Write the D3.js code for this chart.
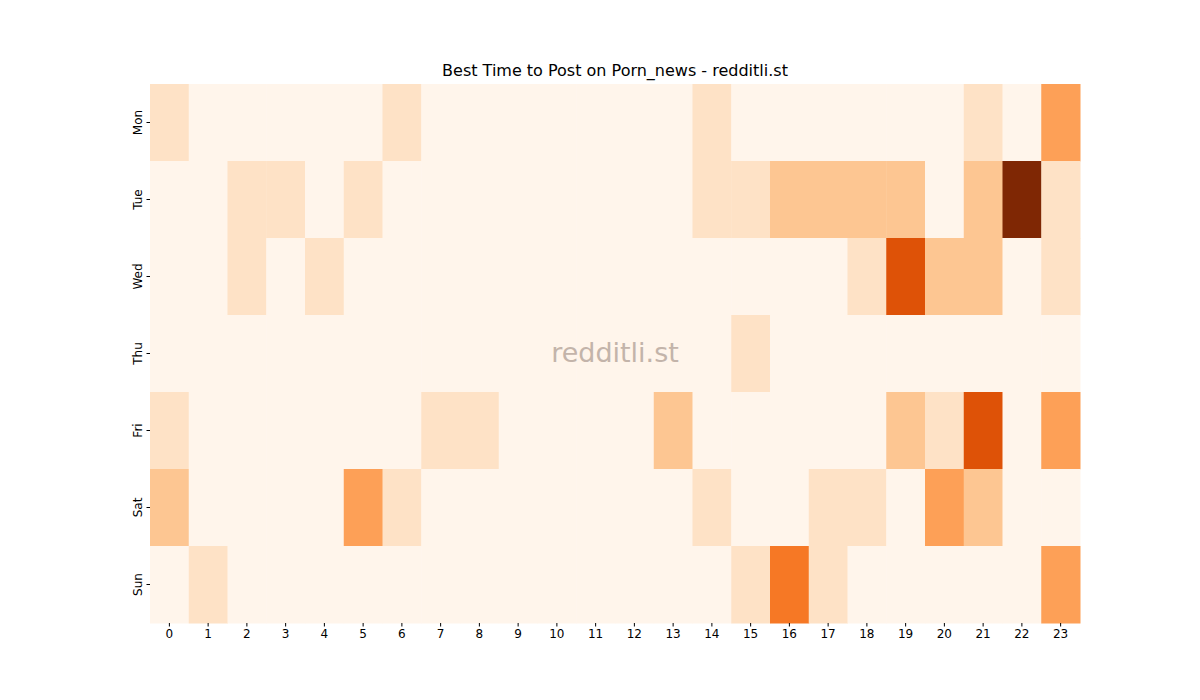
<!DOCTYPE html>
<html><head><meta charset="utf-8">
<script src="https://cdn.jsdelivr.net/npm/d3@7"></script>
<style>body{margin:0;background:#fff;font-family:"DejaVu Sans",sans-serif;}</style>
</head><body><svg id="c" width="1200" height="700"></svg>
<script>
const days = ["Mon","Tue","Wed","Thu","Fri","Sat","Sun"];
const hours = d3.range(24).map(String);
const mon = [1,0,0,0,0,0,1,0,0,0,0,0,0,0,1,0,0,0,0,0,0,1,0,3];
const tue = [0,0,1,1,0,1,0,0,0,0,0,0,0,0,1,1,2,2,2,2,0,2,7,1];
const wed = [0,0,1,0,1,0,0,0,0,0,0,0,0,0,0,0,0,0,1,5,2,2,0,1];
const thu = [0,0,0,0,0,0,0,0,0,0,0,0,0,0,0,1,0,0,0,0,0,0,0,0];
const fri = [1,0,0,0,0,0,0,1,1,0,0,0,0,2,0,0,0,0,0,2,1,5,0,3];
const sat = [2,0,0,0,0,3,1,0,0,0,0,0,0,0,1,0,0,1,1,0,3,2,0,0];
const sun = [0,1,0,0,0,0,0,0,0,0,0,0,0,0,0,1,4,1,0,0,0,0,0,3];
const rows = [mon,tue,wed,thu,fri,sat,sun];

const svg = d3.select("#c");
const x = d3.scaleBand().domain(hours).range([150,1080]);
const y = d3.scaleBand().domain(days).range([84,623]);
const color = d3.scaleSequential(d3.interpolateOranges).domain([0,7]);
const cells = [];
rows.forEach((r,i)=>r.forEach((v,j)=>cells.push({d:days[i],h:hours[j],v})));
svg.append("g").selectAll("rect").data(cells).join("rect")
  .attr("x",d=>x(d.h)).attr("y",d=>y(d.d))
  .attr("width",x.bandwidth()+0.5).attr("height",y.bandwidth()+0.5)
  .attr("fill",d=>color(d.v));
const gx = svg.append("g").attr("transform","translate(0,623)").call(d3.axisBottom(x).tickSizeOuter(0).tickSize(3.5));
gx.select(".domain").remove();
gx.selectAll("text").attr("font-size",12).attr("font-family","DejaVu Sans").attr("fill","#000");
const gy = svg.append("g").attr("transform","translate(150,0)").call(d3.axisLeft(y).tickSizeOuter(0).tickSize(3.5));
gy.select(".domain").remove();
gy.selectAll("text").attr("font-size",12).attr("font-family","DejaVu Sans").attr("fill","#000")
  .attr("transform",function(){const t=d3.select(this);return null;});
gy.selectAll(".tick text").each(function(){
  d3.select(this).attr("x",null).attr("dy",null).attr("text-anchor","middle")
   .attr("transform","translate(-12,0) rotate(-90)").attr("dominant-baseline","central");
});
svg.append("text").attr("x",615).attr("y",76).attr("text-anchor","middle")
  .attr("font-size",16).attr("font-family","DejaVu Sans").text("Best Time to Post on Porn_news - redditli.st");
svg.append("text").attr("x",615).attr("y",362).attr("text-anchor","middle")
  .attr("font-size",27).attr("font-family","DejaVu Sans").attr("fill","#b5a49a").attr("opacity",0.8).text("redditli.st");
</script></body></html>
